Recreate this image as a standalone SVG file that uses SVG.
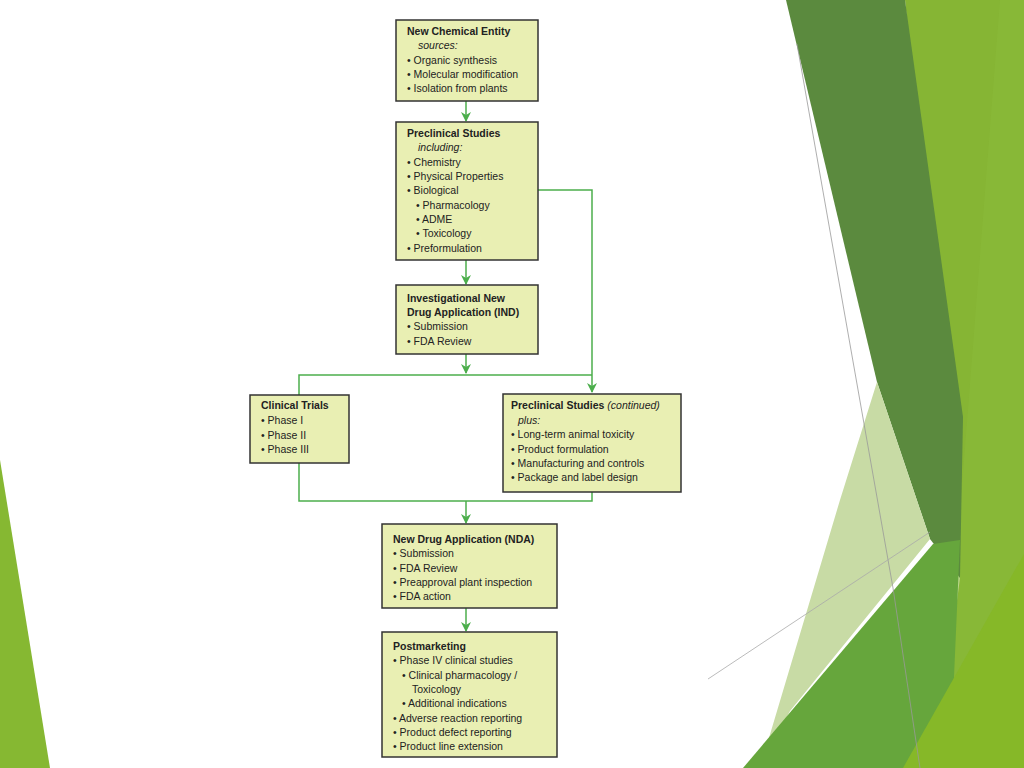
<svg xmlns="http://www.w3.org/2000/svg" width="1024" height="768" viewBox="0 0 1024 768">
<style>
.b{fill:#e9efb3;stroke:#333;stroke-width:1.5}
text{font-family:"Liberation Sans",Arial,sans-serif;font-size:10.5px;fill:#222}
.h{font-weight:bold}
.c{stroke:#4cae4c;stroke-width:1.5;fill:none}
</style>
<defs><marker id="a" markerWidth="8" markerHeight="8" refX="4" refY="7" orient="auto" markerUnits="userSpaceOnUse"><path d="M0,0 L4,8 L8,0 L4,3 Z" fill="#4cae4c" transform="rotate(-90 4 4)"/></marker>
<marker id="ar" markerWidth="10" markerHeight="10" refX="9" refY="5" orient="auto" markerUnits="userSpaceOnUse"><path d="M0,0 L10,5 L0,10 L3,5 Z" fill="#4cae4c"/></marker></defs>
<rect width="1024" height="768" fill="#fff"/>
<g id="bg">
<polygon points="0,460 50,768 0,768" fill="#86b832"/>
<polygon points="905,0 1024,0 1024,768 935,768 960,578" fill="#86b534"/>
<polygon points="1000,0 1024,0 1024,768 940,768" fill="#8bbb3a" opacity="0.6"/>
<polygon points="786,0 905,0 963,417 960,578 930,539 877,382" fill="#5b8a3e"/>
<polygon points="877,382 930,539 790,711 760,768 840,500" fill="#c8dba5"/>
<polygon points="743,768 933,544 960,540 950,768" fill="#66a63c"/>
<polygon points="903,768 1024,554 1024,768" fill="#86b828"/>
<polyline points="797,44 893,588 920,768" fill="none" stroke="#999" stroke-width="0.8"/>
<line x1="708" y1="679" x2="930" y2="532" stroke="#aaa" stroke-width="0.8"/>
</g>
<g id="connectors">
<line class="c" x1="466" y1="101" x2="466" y2="121" marker-end="url(#ar)"/>
<line class="c" x1="466" y1="260" x2="466" y2="284" marker-end="url(#ar)"/>
<line class="c" x1="466" y1="354" x2="466" y2="373" marker-end="url(#ar)"/>
<polyline class="c" points="299,395 299,375 592,375"/>
<polyline class="c" points="538,190 592,190 592,392" marker-end="url(#ar)"/>
<polyline class="c" points="299,463 299,501 592,501 592,492"/>
<line class="c" x1="466" y1="501" x2="466" y2="523" marker-end="url(#ar)"/>
<line class="c" x1="466" y1="608" x2="466" y2="631" marker-end="url(#ar)"/>
</g>
<g id="n1"><rect class="b" x="396" y="20" width="142" height="81"/>
<text x="407" y="35" class="h">New Chemical Entity</text>
<text x="418" y="49" font-style="italic">sources:</text>
<text x="407" y="64">• Organic synthesis</text>
<text x="407" y="78">• Molecular modification</text>
<text x="407" y="92">• Isolation from plants</text></g>
<g id="n2"><rect class="b" x="396" y="122" width="142" height="138"/>
<text x="407" y="137" class="h">Preclinical Studies</text>
<text x="418" y="151" font-style="italic">including:</text>
<text x="407" y="166">• Chemistry</text>
<text x="407" y="180">• Physical Properties</text>
<text x="407" y="194">• Biological</text>
<text x="416" y="209">• Pharmacology</text>
<text x="416" y="223">• ADME</text>
<text x="416" y="237">• Toxicology</text>
<text x="407" y="252">• Preformulation</text></g>
<g id="n3"><rect class="b" x="396" y="285" width="142" height="69"/>
<text x="407" y="302" class="h">Investigational New</text>
<text x="407" y="316" class="h">Drug Application (IND)</text>
<text x="407" y="330">• Submission</text>
<text x="407" y="345">• FDA Review</text></g>
<g id="n4"><rect class="b" x="250" y="395" width="99" height="68"/>
<text x="261" y="409" class="h">Clinical Trials</text>
<text x="261" y="424">• Phase I</text>
<text x="261" y="439">• Phase II</text>
<text x="261" y="453">• Phase III</text></g>
<g id="n5"><rect class="b" x="503" y="394" width="178" height="98"/>
<text x="511" y="409"><tspan class="h">Preclinical Studies </tspan><tspan font-style="italic">(continued)</tspan></text>
<text x="518" y="424" font-style="italic">plus:</text>
<text x="511" y="438">• Long-term animal toxicity</text>
<text x="511" y="453">• Product formulation</text>
<text x="511" y="467">• Manufacturing and controls</text>
<text x="511" y="481">• Package and label design</text></g>
<g id="n6"><rect class="b" x="382" y="524" width="175" height="84"/>
<text x="393" y="543" class="h">New Drug Application (NDA)</text>
<text x="393" y="557">• Submission</text>
<text x="393" y="572">• FDA Review</text>
<text x="393" y="586">• Preapproval plant inspection</text>
<text x="393" y="600">• FDA action</text></g>
<g id="n7"><rect class="b" x="382" y="632" width="175" height="125"/>
<text x="393" y="650" class="h">Postmarketing</text>
<text x="393" y="664">• Phase IV clinical studies</text>
<text x="402" y="679">• Clinical pharmacology /</text>
<text x="412" y="693">Toxicology</text>
<text x="402" y="707">• Additional indications</text>
<text x="393" y="722">• Adverse reaction reporting</text>
<text x="393" y="736">• Product defect reporting</text>
<text x="393" y="750">• Product line extension</text></g>
</svg>
